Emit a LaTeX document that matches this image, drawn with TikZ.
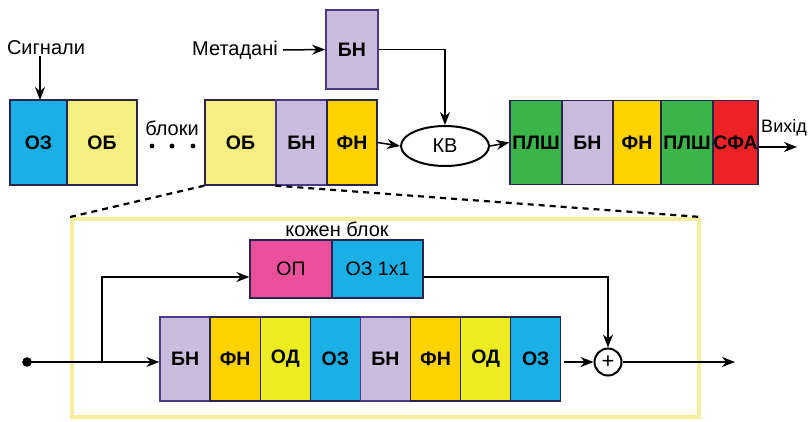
\documentclass[tikz,border=0pt]{standalone}
\usepackage{fontspec}
\setmainfont{Liberation Sans}
\usetikzlibrary{arrows.meta,shapes.geometric}
\definecolor{cOZ}{HTML}{1AB0E6}
\definecolor{cOB}{HTML}{F5EE80}
\definecolor{cBN}{HTML}{C9BCDD}
\definecolor{cFN}{HTML}{FFD200}
\definecolor{cOD}{HTML}{EDEC22}
\definecolor{cPL}{HTML}{3BB44A}
\definecolor{cSF}{HTML}{EC2227}
\definecolor{cOP}{HTML}{EA4F9B}
\definecolor{cFR}{HTML}{F6EE9E}
\definecolor{cBD}{HTML}{2B2350}
\definecolor{cBNB}{HTML}{4B3A8C}
\tikzset{
  box/.style={draw=cBD, line width=1.3pt, inner sep=0pt, font=\fontsize{19.5}{21}\selectfont\bfseries},
  boxr/.style={box, font=\fontsize{19.5}{21}\selectfont},
  lbl/.style={inner sep=1pt, font=\fontsize{20}{22}\selectfont},
  arr/.style={-{Stealth[length=13pt,width=10pt]}, line width=1.5pt},
  dsh/.style={line width=2.2pt, dash pattern=on 6pt off 5pt},
}
\begin{document}
\begin{tikzpicture}[x=1pt,y=-1pt]
\useasboundingbox (0,0) rectangle (809,421);
% frame
\node[draw=cFR, line width=4pt, minimum width=627, minimum height=198, inner sep=0pt] (fr) at (385.5,318) {};
% top-left blocks
\node[box, fill=cOZ, minimum width=57, minimum height=85] (oz1) at (38.5,142.5) {ОЗ};
\node[box, fill=cOB, minimum width=70, minimum height=85] (ob1) at (102,142.5) {ОБ};
\node[box, fill=cOB, minimum width=71, minimum height=85] (ob2) at (240.5,142.5) {ОБ};
\node[box, draw=cBNB, fill=cBN, minimum width=51, minimum height=85] (bn2) at (301.5,142.5) {БН};
\node[box, fill=cFN, minimum width=50, minimum height=85] (fn2) at (352,142.5) {ФН};
\node[box, draw=cBNB, line width=1.8pt, fill=cBN, minimum width=52, minimum height=79] (bnT) at (352,49.5) {БН};
\node[draw, ellipse, line width=2pt, minimum width=88, minimum height=40, inner sep=0pt, lbl] (kv) at (445,146) {КВ};
% right blocks
\node[box, fill=cPL, minimum width=52, minimum height=84] (pl1) at (536,142.5) {ПЛШ};
\node[box, fill=cBN, minimum width=51, minimum height=84] (bn3) at (587.5,142.5) {БН};
\node[box, fill=cFN, minimum width=48, minimum height=84] (fn3) at (637,142.5) {ФН};
\node[box, fill=cPL, minimum width=52, minimum height=84] (pl2) at (687,142.5) {ПЛШ};
\node[box, fill=cSF, minimum width=45, minimum height=84] (sf) at (735.5,142.5) {СФА};
% texts
\node[lbl] (sig) at (46,48) {Сигнали};
\node[lbl] (blk) at (172,128) {блоки};
\node[lbl] (met) at (235,50) {Метадані};
\node[lbl, anchor=east, font=\fontsize{18}{20}\selectfont] (vyh) at (808,128) {Вихід};
\node[lbl] (kb) at (337,229) {кожен блок};
\fill (152,146) circle (2.4) (172,146) circle (2.4) (193,146) circle (2.4);
% top connectors
\coordinate (sigE) at (40,100);
\draw[arr] (sig.south -| sigE) -- (sigE);
\draw[arr] ([xshift=4pt]met.east) -- (bnT.west);
\draw[arr] (bnT.east) -| (kv.north);
\draw[arr] (fn2.east) -- (kv.west);
\draw[arr] (kv.east) -- (pl1.west);
\coordinate (outE) at (797,147);
\draw[arr] (sf.east |- outE) -- (outE);
% dashed zoom lines
\draw[dsh] (ob2.south west) -- (fr.north west);
\draw[dsh] (bn2.south west) -- (fr.north east);
% residual block
\node[boxr, fill=cOP, minimum width=82, minimum height=58] (op) at (291,269) {ОП};
\node[boxr, fill=cOZ, minimum width=91, minimum height=58] (oz11) at (377.5,269) {ОЗ 1x1};
\node[box, draw=cBNB, fill=cBN, minimum width=50.1, minimum height=84] (b1) at (185.05,359) {БН};
\node[box, fill=cFN, minimum width=50.1, minimum height=84] (b2) at (235.15,359) {ФН};
\node[box, fill=cOD, minimum width=50.1, minimum height=84] (b3) at (285.25,359) {ОД};
\node[box, fill=cOZ, minimum width=50.1, minimum height=84] (b4) at (335.35,359) {ОЗ};
\node[box, draw=cBNB, fill=cBN, minimum width=50.1, minimum height=84] (b5) at (385.45,359) {БН};
\node[box, fill=cFN, minimum width=50.1, minimum height=84] (b6) at (435.55,359) {ФН};
\node[box, fill=cOD, minimum width=50.1, minimum height=84] (b7) at (485.65,359) {ОД};
\node[box, fill=cOZ, minimum width=50.1, minimum height=84] (b8) at (535.75,359) {ОЗ};
\node[draw, circle, line width=2pt, minimum size=27, inner sep=0pt, font=\fontsize{22}{22}\selectfont] (pl) at (608,362) {+};
\fill (27,362) circle (4.8) coordinate (in);
\coordinate (br) at (102,362);
\draw[arr] (in) -- (in -| b1.west);
\draw[arr] (br) |- ([yshift=-8pt]op.west);
\draw[arr] ([yshift=-8pt]oz11.east) -| (pl.north);
\draw[arr] ([xshift=3pt]b8.east |- pl.west) -- (pl.west);
\coordinate (resE) at (735,362);
\draw[arr] (pl.east) -- (resE);
\end{tikzpicture}
\end{document}
